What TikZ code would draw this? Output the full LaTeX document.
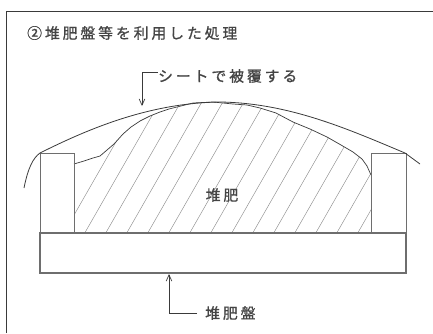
\documentclass[tikz,border=0pt]{standalone}
\usepackage{fontspec}
\usepackage{tikz}
\usetikzlibrary{
  arrows.meta,
  positioning,
  calc
}
\newfontfamily\jpfont[LetterSpace=20, FakeBold=1]{Noto Sans CJK JP}
\definecolor{cpInk}{HTML}{3A3A3A}
\definecolor{cpSlab}{HTML}{6E6E6E}
\definecolor{cpHatch}{HTML}{8C8C8C}
\definecolor{cpText}{HTML}{444444}
\tikzset{
  cplabel/.style={font=\jpfont\fontsize{14.8}{16}\selectfont, text=cpText, inner sep=0pt},
  frameline/.style={line width=0.9pt, cpInk},
  slab/.style={line width=1.1pt, cpSlab},
  wall/.style={line width=0.9pt, cpSlab},
  sheet/.style={line width=0.8pt, cpInk},
  pile/.style={line width=0.7pt, cpInk, line join=round},
  hatch/.style={line width=0.45pt, cpHatch},
  leader/.style={line width=0.7pt, cpInk, -{Straight Barb[length=2.2mm, width=2mm]}}
}

\begin{document}
\begin{tikzpicture}[x=1pt, y=-1pt]
  \useasboundingbox (0,0) rectangle (433,333);
  % outer frame
  \draw[frameline] (6,333) -- (6,11) -- (433,11);
  \node[cplabel, anchor=west] (title) at (27,33) {②堆肥盤等を利用した処理};

  % compost pile with hatching
  \begin{scope}
    \clip (74,233) -- (74,164) -- (84,161) -- (93,158) -- (100,156) -- (107,150)
      -- (114,144) -- (123,134) -- (131,127) -- (140,121) -- (150,116) -- (160,112)
      -- (169,109) -- (177,107) -- (193,103) -- (213,102) -- (233,104) -- (247,105)
      -- (260,108) -- (276,113) -- (293,122) -- (310,129) -- (327,137) -- (341,145)
      -- (353,152) -- (362,159) -- (367,166) -- (371,175) -- (371,233) -- cycle;
    \foreach \i in {0,...,18}
      \draw[hatch] ({62+21*\i},236) -- ({62+21*\i+78},100);
  \end{scope}
  \draw[pile] (74,164) -- (84,161) -- (93,158) -- (100,156) -- (107,150)
    -- (114,144) -- (123,134) -- (131,127) -- (140,121) -- (150,116) -- (160,112)
    -- (169,109) -- (177,107) -- (193,103) -- (213,102) -- (233,104) -- (247,105)
    -- (260,108) -- (276,113) -- (293,122) -- (310,129) -- (327,137) -- (341,145)
    -- (353,152) -- (362,159) -- (367,166) -- (371,175);

  % slab and side walls
  \draw[slab] (40,233) rectangle (406,273);
  \draw[wall] (40,233) -- (40,153) -- (74,153) -- (74,233);
  \draw[wall] (371,233) -- (371,153) -- (406,153) -- (406,233);

  % covering sheet
  \draw[sheet] (24,188) .. controls (28,168) and (33,158) .. (40,153)
    .. controls (90,128) and (150,103) .. (220,102)
    .. controls (290,103) and (350,130) .. (405,153)
    -- (420,164);

  % labels and leaders
  \node[cplabel, anchor=west] (sheetlbl) at (158,76) {シートで被覆する};
  \coordinate (sheettip) at (142,106);
  \draw[leader] ([yshift=4pt]sheetlbl.west) -| (sheettip);

  \node[cplabel] (pilelbl) at (222,195) {堆肥};

  \node[cplabel, anchor=west] (baselbl) at (205,313) {堆肥盤};
  \coordinate (basetip) at (169,274);
  \draw[leader] ([xshift=-8pt]baselbl.west) -| (basetip);
\end{tikzpicture}
\end{document}
